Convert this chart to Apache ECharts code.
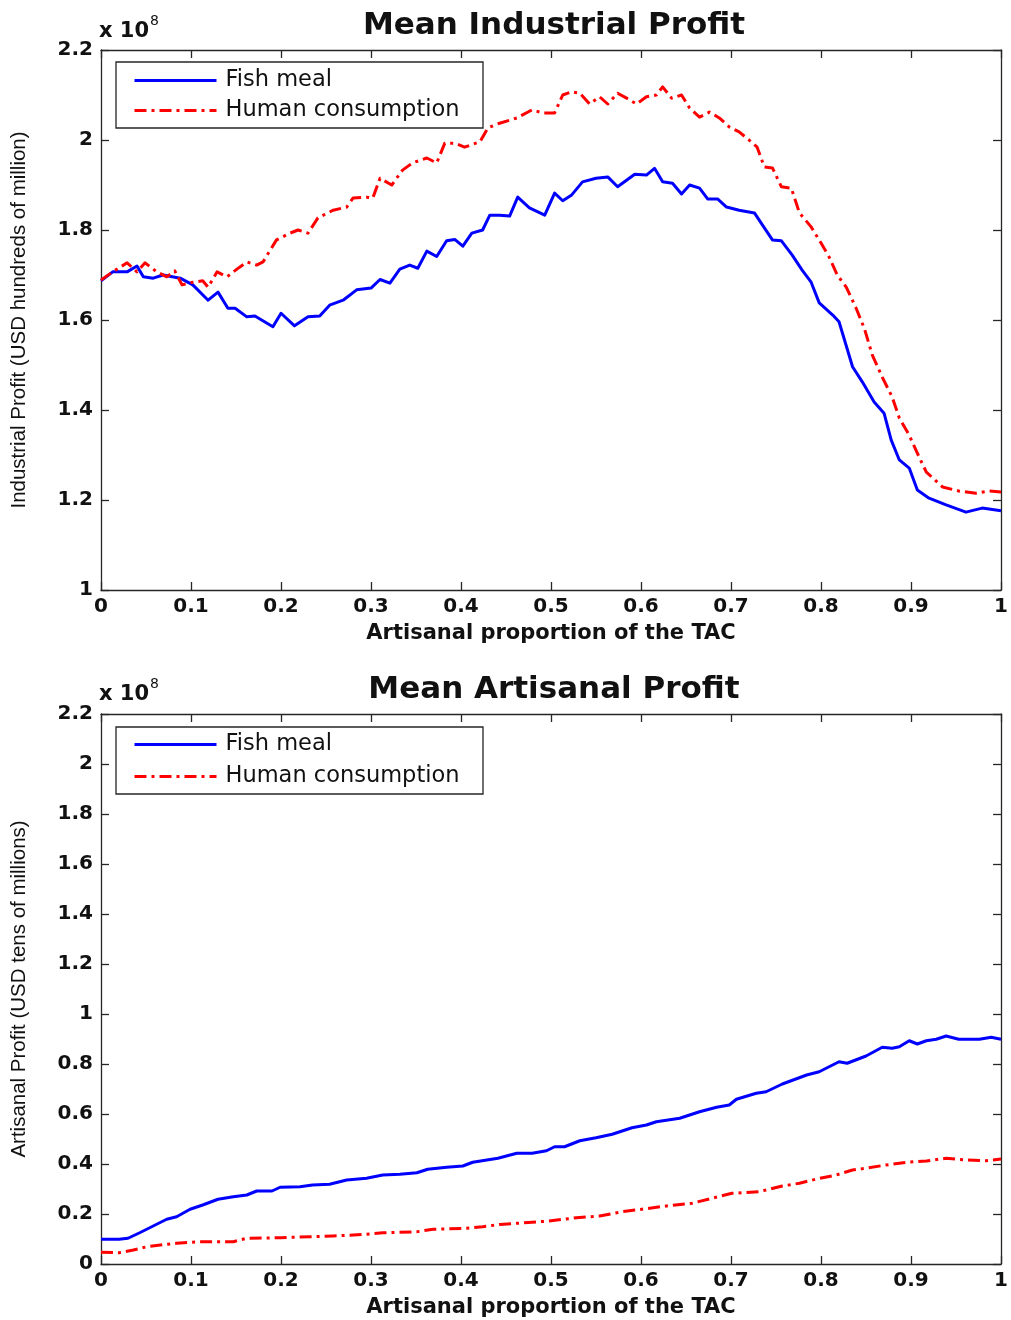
<!DOCTYPE html>
<html><head><meta charset="utf-8">
<script src="https://cdn.jsdelivr.net/npm/echarts@6/dist/echarts.min.js"></script>
<style>html,body{margin:0;padding:0;background:#fff}#c{width:1011px;height:1320px}</style>
</head><body><div id="c"></div>
<script>
// ---- data (values in units of 1e8) ----
const seriesNames = ['Fish meal', 'Human consumption'];
const titles = ['Mean Industrial Profit', 'Mean Artisanal Profit'];
const yTitles = ['Industrial Profit (USD hundreds of million)', 'Artisanal Profit (USD tens of millions)'];
const xTitle = 'Artisanal proportion of the TAC';

const indFishX = [0,0.013,0.029,0.04,0.047,0.058,0.069,0.088,0.102,0.119,
0.13,0.141,0.149,0.162,0.171,0.191,0.2,0.215,0.23,0.243,
0.254,0.269,0.284,0.3,0.31,0.321,0.332,0.343,0.352,0.362,
0.373,0.384,0.393,0.402,0.412,0.424,0.432,0.443,0.454,0.463,
0.476,0.493,0.504,0.513,0.523,0.535,0.55,0.563,0.574,0.593,
0.606,0.615,0.624,0.635,0.645,0.654,0.665,0.674,0.685,0.695,
0.709,0.726,0.735,0.746,0.756,0.768,0.779,0.789,0.798,0.813,
0.82,0.835,0.846,0.859,0.87,0.878,0.887,0.898,0.907,0.92,
0.939,0.961,0.979,1.0];
const indFishY = [1.687,1.707,1.707,1.72,1.696,1.693,1.70,1.693,1.678,1.644,
1.662,1.626,1.626,1.607,1.609,1.585,1.615,1.587,1.607,1.609,
1.633,1.644,1.667,1.671,1.69,1.682,1.713,1.722,1.715,1.753,
1.741,1.776,1.779,1.764,1.793,1.80,1.833,1.833,1.831,1.873,
1.849,1.833,1.882,1.865,1.878,1.907,1.915,1.918,1.896,1.924,
1.922,1.937,1.907,1.904,1.88,1.90,1.893,1.869,1.869,1.851,
1.844,1.838,1.811,1.778,1.776,1.744,1.711,1.684,1.638,1.611,
1.596,1.496,1.462,1.418,1.393,1.333,1.289,1.271,1.222,1.204,
1.189,1.173,1.182,1.176];

const indHumX = [0,0.013,0.029,0.04,0.049,0.062,0.073,0.082,0.09,0.102,
0.113,0.119,0.129,0.14,0.151,0.162,0.173,0.18,0.195,0.21,
0.219,0.23,0.241,0.258,0.273,0.28,0.295,0.302,0.31,0.323,
0.335,0.346,0.362,0.373,0.382,0.393,0.404,0.421,0.43,0.441,
0.462,0.479,0.491,0.504,0.513,0.523,0.532,0.543,0.554,0.563,
0.574,0.584,0.595,0.606,0.617,0.624,0.634,0.645,0.654,0.665,
0.676,0.687,0.698,0.709,0.72,0.729,0.737,0.746,0.756,0.767,
0.776,0.789,0.8,0.809,0.818,0.828,0.839,0.848,0.857,0.868,
0.879,0.887,0.898,0.907,0.917,0.935,0.953,0.972,0.987,1.0];
const indHumY = [1.689,1.707,1.727,1.707,1.727,1.707,1.696,1.709,1.678,1.684,
1.687,1.673,1.707,1.696,1.713,1.729,1.722,1.729,1.778,1.793,
1.80,1.793,1.827,1.844,1.851,1.871,1.873,1.871,1.915,1.90,
1.933,1.949,1.96,1.949,1.993,1.993,1.984,1.996,2.027,2.036,
2.049,2.067,2.06,2.06,2.10,2.107,2.104,2.08,2.096,2.08,
2.104,2.093,2.08,2.096,2.10,2.118,2.093,2.10,2.071,2.051,
2.062,2.049,2.029,2.018,2.0,1.984,1.94,1.938,1.896,1.893,
1.838,1.807,1.771,1.74,1.70,1.673,1.626,1.582,1.522,1.473,
1.429,1.382,1.344,1.304,1.262,1.229,1.22,1.215,1.22,1.218];

const artFishX = [0,0.02,0.03,0.043,0.058,0.073,0.084,0.099,0.113,0.13,
0.147,0.162,0.173,0.19,0.199,0.221,0.235,0.254,0.273,0.295,
0.313,0.332,0.351,0.363,0.384,0.402,0.413,0.441,0.462,0.479,
0.495,0.504,0.515,0.532,0.55,0.568,0.59,0.606,0.617,0.643,
0.665,0.684,0.698,0.706,0.728,0.739,0.757,0.784,0.798,0.82,
0.829,0.85,0.868,0.879,0.887,0.898,0.907,0.917,0.928,0.939,
0.953,0.976,0.989,1.0];
const artFishY = [0.099,0.099,0.103,0.125,0.152,0.179,0.189,0.219,0.236,0.259,
0.269,0.276,0.292,0.292,0.307,0.309,0.316,0.319,0.336,0.343,
0.356,0.359,0.365,0.379,0.387,0.392,0.407,0.423,0.443,0.443,
0.453,0.469,0.469,0.493,0.505,0.519,0.545,0.556,0.569,0.583,
0.609,0.627,0.636,0.659,0.683,0.689,0.72,0.756,0.769,0.809,
0.803,0.832,0.867,0.863,0.869,0.893,0.88,0.893,0.899,0.912,
0.899,0.899,0.907,0.899];

const artHumX = [0,0.02,0.036,0.051,0.066,0.084,0.11,0.147,0.162,0.199,
0.232,0.258,0.295,0.313,0.351,0.369,0.406,0.424,0.443,0.479,
0.498,0.528,0.554,0.579,0.601,0.628,0.657,0.679,0.701,0.731,
0.757,0.776,0.795,0.817,0.835,0.85,0.872,0.895,0.917,0.939,
0.961,0.983,1.0];
const artHumY = [0.047,0.045,0.056,0.069,0.076,0.083,0.089,0.089,0.103,0.105,
0.109,0.112,0.119,0.125,0.129,0.139,0.143,0.149,0.158,0.167,
0.172,0.185,0.192,0.209,0.219,0.232,0.243,0.263,0.283,0.289,
0.312,0.323,0.34,0.356,0.376,0.383,0.396,0.407,0.412,0.423,
0.416,0.413,0.42];

// ---- chart ----
const pair = (xs, ys) => xs.map((x, i) => [x, ys[i]]);
const fmt = v => String(+(+v).toFixed(1));
const AX = '#262626';
const TXT = '#111';
const tickFont = {fontFamily: 'DejaVu Sans', fontWeight: 'bold', fontSize: 20, color: TXT};

function xAxisPair(gi) {
  return [
    {type: 'value', gridIndex: gi, position: 'bottom', min: 0, max: 1, interval: 0.1,
     axisLine: {show: true, onZero: false, lineStyle: {color: AX, width: 1.3}},
     axisTick: {show: true, inside: true, length: 8, lineStyle: {color: AX, width: 1.3}},
     axisLabel: Object.assign({margin: 7, formatter: fmt}, tickFont),
     splitLine: {show: false},
     name: xTitle, nameLocation: 'middle', nameGap: 33,
     nameTextStyle: {fontFamily: 'DejaVu Sans', fontWeight: 'bold', fontSize: 21, color: TXT}},
    {type: 'value', gridIndex: gi, position: 'top', min: 0, max: 1, interval: 0.1,
     axisLine: {show: true, onZero: false, lineStyle: {color: AX, width: 1.3}},
     axisTick: {show: true, inside: true, length: 8, lineStyle: {color: AX, width: 1.3}},
     axisLabel: {show: false}, splitLine: {show: false}}
  ];
}
function yAxisPair(gi, min, max, title) {
  return [
    {type: 'value', gridIndex: gi, position: 'left', min: min, max: max, interval: 0.2,
     axisLine: {show: true, onZero: false, lineStyle: {color: AX, width: 1.3}},
     axisTick: {show: true, inside: true, length: 8, lineStyle: {color: AX, width: 1.3}},
     axisLabel: Object.assign({margin: 8, formatter: fmt}, tickFont),
     splitLine: {show: false},
     name: title, nameLocation: 'middle', nameGap: 71, nameRotate: 90,
     nameTextStyle: {fontFamily: 'Liberation Sans', fontSize: 20.5, color: TXT}},
    {type: 'value', gridIndex: gi, position: 'right', min: min, max: max, interval: 0.2,
     axisLine: {show: true, onZero: false, lineStyle: {color: AX, width: 1.3}},
     axisTick: {show: true, inside: true, length: 8, lineStyle: {color: AX, width: 1.3}},
     axisLabel: {show: false}, splitLine: {show: false}}
  ];
}
const blueStyle = {color: '#0000ff', width: 3, type: 'solid', cap: 'butt', join: 'round'};
const redStyle = {color: '#ff0000', width: 3, type: [12, 5, 3, 5], cap: 'butt', join: 'round'};
function lineSeries(name, data, xi, yi, style) {
  return {type: 'line', name: name, data: data, xAxisIndex: xi, yAxisIndex: yi,
    showSymbol: false, symbol: 'none', animation: false, color: style.color,
    lineStyle: style, z: 2};
}
const legendText = {fontFamily: 'DejaVu Sans', fontSize: 22.5, color: TXT, padding: [0, 0, 0, 4]};
function legendAt(top, gap) {
  return {data: seriesNames, orient: 'vertical', left: 133, top: top, itemWidth: 82, itemHeight: 14,
    itemGap: gap, padding: 0, textStyle: legendText, lineStyle: {width: 3},
    itemStyle: {opacity: 0, borderWidth: 0, color: 'rgba(0,0,0,0)'}, z: 10,
    selectedMode: false};
}

const chart = echarts.init(document.getElementById('c'), null, {renderer: 'canvas'});
chart.setOption({
  animation: false,
  backgroundColor: '#fff',
  title: [
    {text: titles[0], left: 549, top: 5, textAlign: 'center',
     textStyle: {fontFamily: 'DejaVu Sans', fontWeight: 'bold', fontSize: 31, color: TXT}},
    {text: titles[1], left: 549, top: 669, textAlign: 'center',
     textStyle: {fontFamily: 'DejaVu Sans', fontWeight: 'bold', fontSize: 31, color: TXT}}
  ],
  grid: [
    {left: 101, top: 50, width: 901, height: 540, containLabel: false},
    {left: 101, top: 714, width: 901, height: 550, containLabel: false}
  ],
  xAxis: xAxisPair(0).concat(xAxisPair(1)),
  yAxis: yAxisPair(0, 1, 2.2, yTitles[0]).concat(yAxisPair(1, 0, 2.2, yTitles[1])),
  legend: [legendAt(69, 7), legendAt(733, 9)],
  graphic: [
    {type: 'rect', z: 8, shape: {x: 116, y: 62, width: 367, height: 66},
     style: {fill: '#fff', stroke: AX, lineWidth: 1.3}},
    {type: 'rect', z: 8, shape: {x: 116, y: 727, width: 367, height: 67},
     style: {fill: '#fff', stroke: AX, lineWidth: 1.3}},
    {type: 'text', z: 8, left: 99, top: 21, style: {text: 'x 10', font: 'bold 21px "DejaVu Sans"', fill: TXT}},
    {type: 'text', z: 8, left: 150, top: 14, style: {text: '8', font: '14px "DejaVu Sans"', fill: TXT}},
    {type: 'text', z: 8, left: 99, top: 684, style: {text: 'x 10', font: 'bold 21px "DejaVu Sans"', fill: TXT}},
    {type: 'text', z: 8, left: 150, top: 677, style: {text: '8', font: '14px "DejaVu Sans"', fill: TXT}}
  ],
  series: [
    lineSeries(seriesNames[0], pair(indFishX, indFishY), 0, 0, blueStyle),
    lineSeries(seriesNames[1], pair(indHumX, indHumY), 0, 0, redStyle),
    lineSeries(seriesNames[0], pair(artFishX, artFishY), 2, 2, blueStyle),
    lineSeries(seriesNames[1], pair(artHumX, artHumY), 2, 2, redStyle)
  ]
});
</script></body></html>
